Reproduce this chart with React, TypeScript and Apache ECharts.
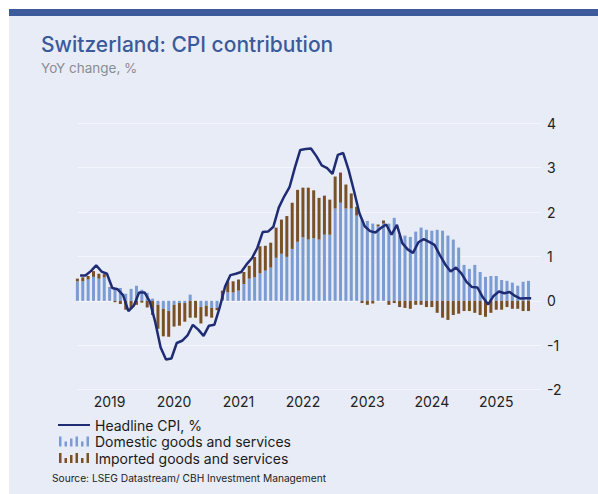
import React, { useEffect, useRef } from "react";
import * as echarts from "echarts";

// Monthly data, Jan 2019 .. Jan 2026
const startYear = 2019;
const years = ["2019", "2020", "2021", "2022", "2023", "2024", "2025"];

const headline = [
  0.57, 0.57, 0.67, 0.8, 0.66, 0.61, 0.29, 0.26, 0.13, -0.23, -0.11, 0.19,
  0.19, -0.02, -0.48, -1.05, -1.32, -1.3, -0.95, -0.9, -0.78, -0.54, -0.65, -0.79,
  -0.56, -0.54, -0.15, 0.32, 0.58, 0.61, 0.65, 0.82, 0.96, 1.19, 1.55, 1.56,
  1.67, 2.1, 2.35, 2.56, 3.0, 3.4, 3.42, 3.43, 3.26, 3.05, 2.99, 2.86,
  3.29, 3.33, 2.95, 2.48, 1.98, 1.68, 1.57, 1.54, 1.64, 1.72, 1.49, 1.71,
  1.3, 1.16, 1.08, 1.32, 1.39, 1.33, 1.26, 1.03, 0.82, 0.66, 0.75, 0.62,
  0.42, 0.31, 0.3, 0.08, -0.08, 0.11, 0.21, 0.17, 0.2, 0.11, 0.05, 0.06,
  0.06,
];

const domestic = [
  0.44, 0.44, 0.48, 0.54, 0.5, 0.53, 0.3, 0.29, 0.29, 0.16, 0.27, 0.34,
  0.25, 0.18, 0.05, -0.09, -0.18, -0.23, -0.09, -0.05, -0.05, 0.14, 0.0, -0.14,
  -0.11, -0.16, -0.16, 0.02, 0.19, 0.19, 0.23, 0.38, 0.5, 0.53, 0.62, 0.68,
  0.75, 0.97, 1.06, 0.99, 1.17, 1.33, 1.43, 1.38, 1.41, 1.38, 1.49, 1.49,
  2.08, 2.21, 2.08, 2.08, 1.92, 1.83, 1.8, 1.74, 1.68, 1.74, 1.74, 1.87,
  1.47, 1.47, 1.44, 1.56, 1.65, 1.6, 1.58, 1.6, 1.58, 1.47, 1.38, 1.2,
  0.81, 0.72, 0.81, 0.65, 0.54, 0.56, 0.56, 0.47, 0.45, 0.41, 0.34, 0.43,
  0.45,
];

const imported = [
  0.06, 0.09, 0.08, 0.13, 0.11, 0.07, 0.01, -0.03, -0.07, -0.2, -0.17, -0.09,
  -0.04, -0.15, -0.32, -0.54, -0.62, -0.58, -0.49, -0.51, -0.42, -0.38, -0.38, -0.37,
  -0.24, -0.22, -0.05, 0.21, 0.25, 0.25, 0.25, 0.27, 0.29, 0.46, 0.61, 0.56,
  0.56, 0.68, 0.77, 0.92, 1.04, 1.17, 1.12, 1.17, 1.08, 0.94, 0.88, 0.79,
  0.72, 0.68, 0.54, 0.34, 0.2, -0.05, -0.09, -0.06, 0.04, 0.07, -0.09, -0.05,
  -0.14, -0.16, -0.18, -0.09, -0.09, -0.14, -0.14, -0.27, -0.38, -0.43, -0.32, -0.29,
  -0.23, -0.23, -0.27, -0.32, -0.36, -0.27, -0.2, -0.2, -0.14, -0.18, -0.18, -0.23,
  -0.23,
];

const months = domestic.map((_, i) => {
  const y = startYear + Math.floor(i / 12);
  const m = (i % 12) + 1;
  return `${y}-${m < 10 ? "0" + m : m}`;
});

const NAVY = "#1f2c74";
const DOM = "#7b9bd3";
const IMP = "#7a5127";
const FONT = "Inter, 'Noto Sans', sans-serif";

const barIcon =
  "path://M0,0h2.5v10h-2.5z M5.5,5h2.5v5h-2.5z M11,2h2.5v8h-2.5z M16.5,0h2.5v10h-2.5z M22,5h2.5v5h-2.5z M27.5,0h2.5v10h-2.5z";
const lineIcon = "path://M0,0h32v2h-32z";

// layout
const PLOT_TOP = 123.3;
const PLOT_H = 266.3;
const PX_MONTH = 5.37;
const FIRST_BAR_X = 77.4;
const PLOT_RIGHT = 541;

export default function App() {
  const ref = useRef<HTMLDivElement>(null);

  useEffect(() => {
    if (!ref.current) return;
    const chart = echarts.init(ref.current, undefined, { renderer: "svg" });
    const cpiData = headline.map((v, i) => [i + 0.5, v]);
    const labelPos = years.map((_, j) => j * 12 + 6);
    const xMax = (PLOT_RIGHT - FIRST_BAR_X) / PX_MONTH;

    chart.setOption({
      animation: false,
      backgroundColor: "#ffffff",
      textStyle: { fontFamily: FONT },
      graphic: [
        {
          type: "rect",
          z: -10,
          shape: { x: 9, y: 9, width: 600, height: 490 },
          style: { fill: "#e8ecf6" },
        },
        {
          type: "rect",
          z: -9,
          shape: { x: 9, y: 9, width: 600, height: 7 },
          style: { fill: "#3d5a9b" },
        },
        {
          type: "text",
          x: 41,
          y: 44.5,
          style: {
            text: "Switzerland: CPI contribution",
            fill: "#3b5a9c",
            font: `500 21px ${FONT}`,
            textVerticalAlign: "middle",
          },
        },
        {
          type: "text",
          x: 41,
          y: 67.5,
          style: {
            text: "YoY change, %",
            fill: "#8a8d94",
            font: `400 13.5px ${FONT}`,
            textVerticalAlign: "middle",
          },
        },
        {
          type: "text",
          x: 52,
          y: 477.5,
          style: {
            text: "Source: LSEG Datastream/ CBH Investment Management",
            fill: "#222222",
            font: `400 10.2px ${FONT}`,
            textVerticalAlign: "middle",
          },
        },
      ],
      grid: [
        {
          left: FIRST_BAR_X - PX_MONTH / 2,
          width: PX_MONTH * months.length,
          top: PLOT_TOP,
          height: PLOT_H,
        },
        {
          left: FIRST_BAR_X,
          width: PLOT_RIGHT - FIRST_BAR_X,
          top: PLOT_TOP,
          height: PLOT_H,
        },
      ],
      legend: {
        orient: "vertical",
        left: 58,
        top: 418,
        itemWidth: 32,
        itemHeight: 10,
        itemGap: 2.5,
        padding: 0,
        symbolKeepAspect: true,
        textStyle: { fontSize: 14, color: "#1a1a1a", fontFamily: FONT },
        data: [
          { name: "Headline CPI, %", icon: lineIcon },
          { name: "Domestic goods and services", icon: barIcon },
          { name: "Imported goods and services", icon: barIcon },
        ],
      },
      xAxis: [
        {
          type: "category",
          gridIndex: 0,
          data: months,
          show: false,
        },
        {
          type: "value",
          gridIndex: 1,
          min: 0,
          max: xMax,
          splitLine: { show: false },
          axisLine: { show: false },
          axisTick: { show: false },
          axisLabel: {
            customValues: labelPos,
            formatter: (v: number) =>
              String(startYear + Math.round((v - 6) / 12)),
            fontSize: 14,
            color: "#222222",
            margin: 5,
            fontFamily: FONT,
          },
        },
      ],
      yAxis: [
        {
          type: "value",
          gridIndex: 0,
          min: -2,
          max: 4,
          interval: 1,
          show: false,
          splitLine: { show: false },
        },
        {
          type: "value",
          gridIndex: 1,
          position: "right",
          min: -2,
          max: 4,
          interval: 1,
          axisLine: { show: false },
          axisTick: { show: false },
          splitLine: { lineStyle: { color: "#f4f6fb", width: 1 } },
          axisLabel: {
            fontSize: 14,
            color: "#222222",
            margin: 6,
            fontFamily: FONT,
          },
        },
      ],
      series: [
        {
          name: "Domestic goods and services",
          type: "bar",
          xAxisIndex: 0,
          yAxisIndex: 0,
          stack: "c",
          barWidth: 3,
          itemStyle: { color: DOM },
          data: domestic,
        },
        {
          name: "Imported goods and services",
          type: "bar",
          xAxisIndex: 0,
          yAxisIndex: 0,
          stack: "c",
          barWidth: 3,
          itemStyle: { color: IMP },
          data: imported,
        },
        {
          name: "Headline CPI, %",
          type: "line",
          xAxisIndex: 1,
          yAxisIndex: 1,
          symbol: "none",
          clip: false,
          z: 5,
          lineStyle: { color: NAVY, width: 2.5 },
          itemStyle: { color: NAVY },
          data: cpiData,
        },
      ],
    });
    return () => chart.dispose();
  }, []);

  return (
    <div
      ref={ref}
      style={{ position: "fixed", left: 0, top: 0, width: 598, height: 494 }}
    />
  );
}
